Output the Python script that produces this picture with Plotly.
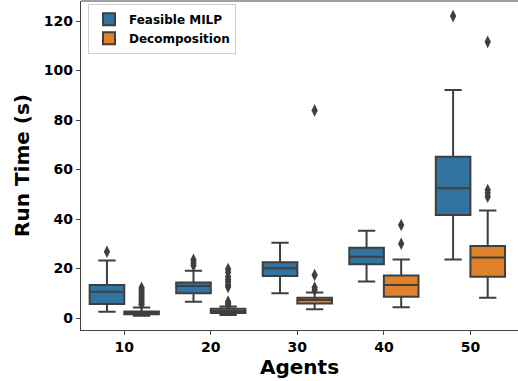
import plotly.graph_objects as go

agents = ["10", "20", "30", "40", "50"]

# Feasible MILP box statistics
milp_q1 = [5.7, 10.0, 17.0, 21.7, 41.6]
milp_med = [10.6, 12.9, 20.1, 24.8, 52.4]
milp_q3 = [13.3, 14.3, 22.5, 28.4, 65.2]
milp_lo = [2.5, 6.6, 10.0, 14.7, 23.6]
milp_hi = [23.2, 19.1, 30.4, 35.3, 92.1]
milp_out_x = ["10", "20", "20", "20", "50"]
milp_out_y = [26.8, 21.2, 22.3, 23.5, 122.0]

# Decomposition box statistics
dec_q1 = [1.5, 2.0, 5.9, 8.6, 16.7]
dec_med = [2.0, 2.8, 7.3, 13.3, 24.4]
dec_q3 = [2.6, 3.7, 8.2, 17.2, 29.1]
dec_lo = [0.9, 1.2, 3.5, 4.3, 8.2]
dec_hi = [4.2, 4.6, 10.3, 23.6, 43.4]
dec_out_x = ["10"] * 10 + ["20"] * 10 + ["30"] * 4 + ["40"] * 2 + ["50"] * 4
dec_out_y = [5.5, 6.2, 7.0, 7.8, 8.5, 9.3, 10.0, 10.8, 11.5, 12.2,
             5.3, 5.9, 6.6, 12.5, 13.3, 14.5, 15.5, 16.7, 18.5, 19.8,
             11.3, 12.3, 17.4, 83.9,
             30.0, 37.6,
             49.0, 50.5, 51.7, 111.6]

series = [
    ("Feasible MILP", "#3274a1", milp_q1, milp_med, milp_q3, milp_lo, milp_hi, milp_out_x, milp_out_y),
    ("Decomposition", "#e1812c", dec_q1, dec_med, dec_q3, dec_lo, dec_hi, dec_out_x, dec_out_y),
]

line_col = "#3f3f3f"
fig = go.Figure()
for i, (name, col, q1, med, q3, lo, hi, ox, oy) in enumerate(series):
    fig.add_trace(go.Box(
        name=name, x=agents, q1=q1, median=med, q3=q3,
        lowerfence=lo, upperfence=hi,
        fillcolor=col, line=dict(color=line_col, width=2),
        whiskerwidth=0.5, offsetgroup=str(i), boxpoints=False,
        hoverinfo="skip",
    ))
for i, (name, col, q1, med, q3, lo, hi, ox, oy) in enumerate(series):
    fig.add_trace(go.Scatter(
        x=ox, y=oy, mode="markers", offsetgroup=str(i), showlegend=False,
        marker=dict(symbol="diamond-tall", size=9, color=line_col),
        hoverinfo="skip",
    ))

font = "DejaVu Sans"
fig.update_layout(
    width=518, height=381,
    margin=dict(l=81, r=0, t=1, b=51, autoexpand=False),
    plot_bgcolor="white", paper_bgcolor="white",
    boxmode="group", boxgap=0.2, boxgroupgap=0,
    scattermode="group", scattergap=0.2,
    font=dict(family=font, color="black"),
    legend=dict(
        x=0.016, y=0.992, xanchor="left", yanchor="top",
        bgcolor="white", bordercolor="#d0d0d0", borderwidth=1,
        font=dict(size=12, family=font, weight="bold"),
        tracegroupgap=0, itemwidth=30,
    ),
    showlegend=True,
)
# top spine
fig.add_shape(type="line", xref="paper", yref="paper", x0=0, x1=1, y0=1, y1=1,
              line=dict(color="#444", width=1.2), layer="above")
fig.update_xaxes(
    type="category", categoryorder="array", categoryarray=agents,
    range=[-0.5, 4.55], automargin=False,
    showline=True, linecolor="#444", linewidth=1.2, mirror=False,
    ticks="outside", ticklen=4, tickcolor="#444",
    tickfont=dict(size=14, family=font, weight="bold"),
    title=dict(text="Agents", font=dict(size=20, family=font, weight="bold"), standoff=2),
    showgrid=False, zeroline=False,
)
fig.update_yaxes(
    range=[-4.85, 128.1], automargin=False,
    tickvals=[0, 20, 40, 60, 80, 100, 120],
    showline=True, linecolor="#444", linewidth=1.2, mirror=False,
    ticks="outside", ticklen=4, tickcolor="#444",
    tickfont=dict(size=14, family=font, weight="bold"),
    title=dict(text="Run Time (s)", font=dict(size=20, family=font, weight="bold"), standoff=8),
    showgrid=False, zeroline=False,
)
fig.write_html("out.html", config={"displayModeBar": False},
               post_script="document.body.style.margin='0';")
